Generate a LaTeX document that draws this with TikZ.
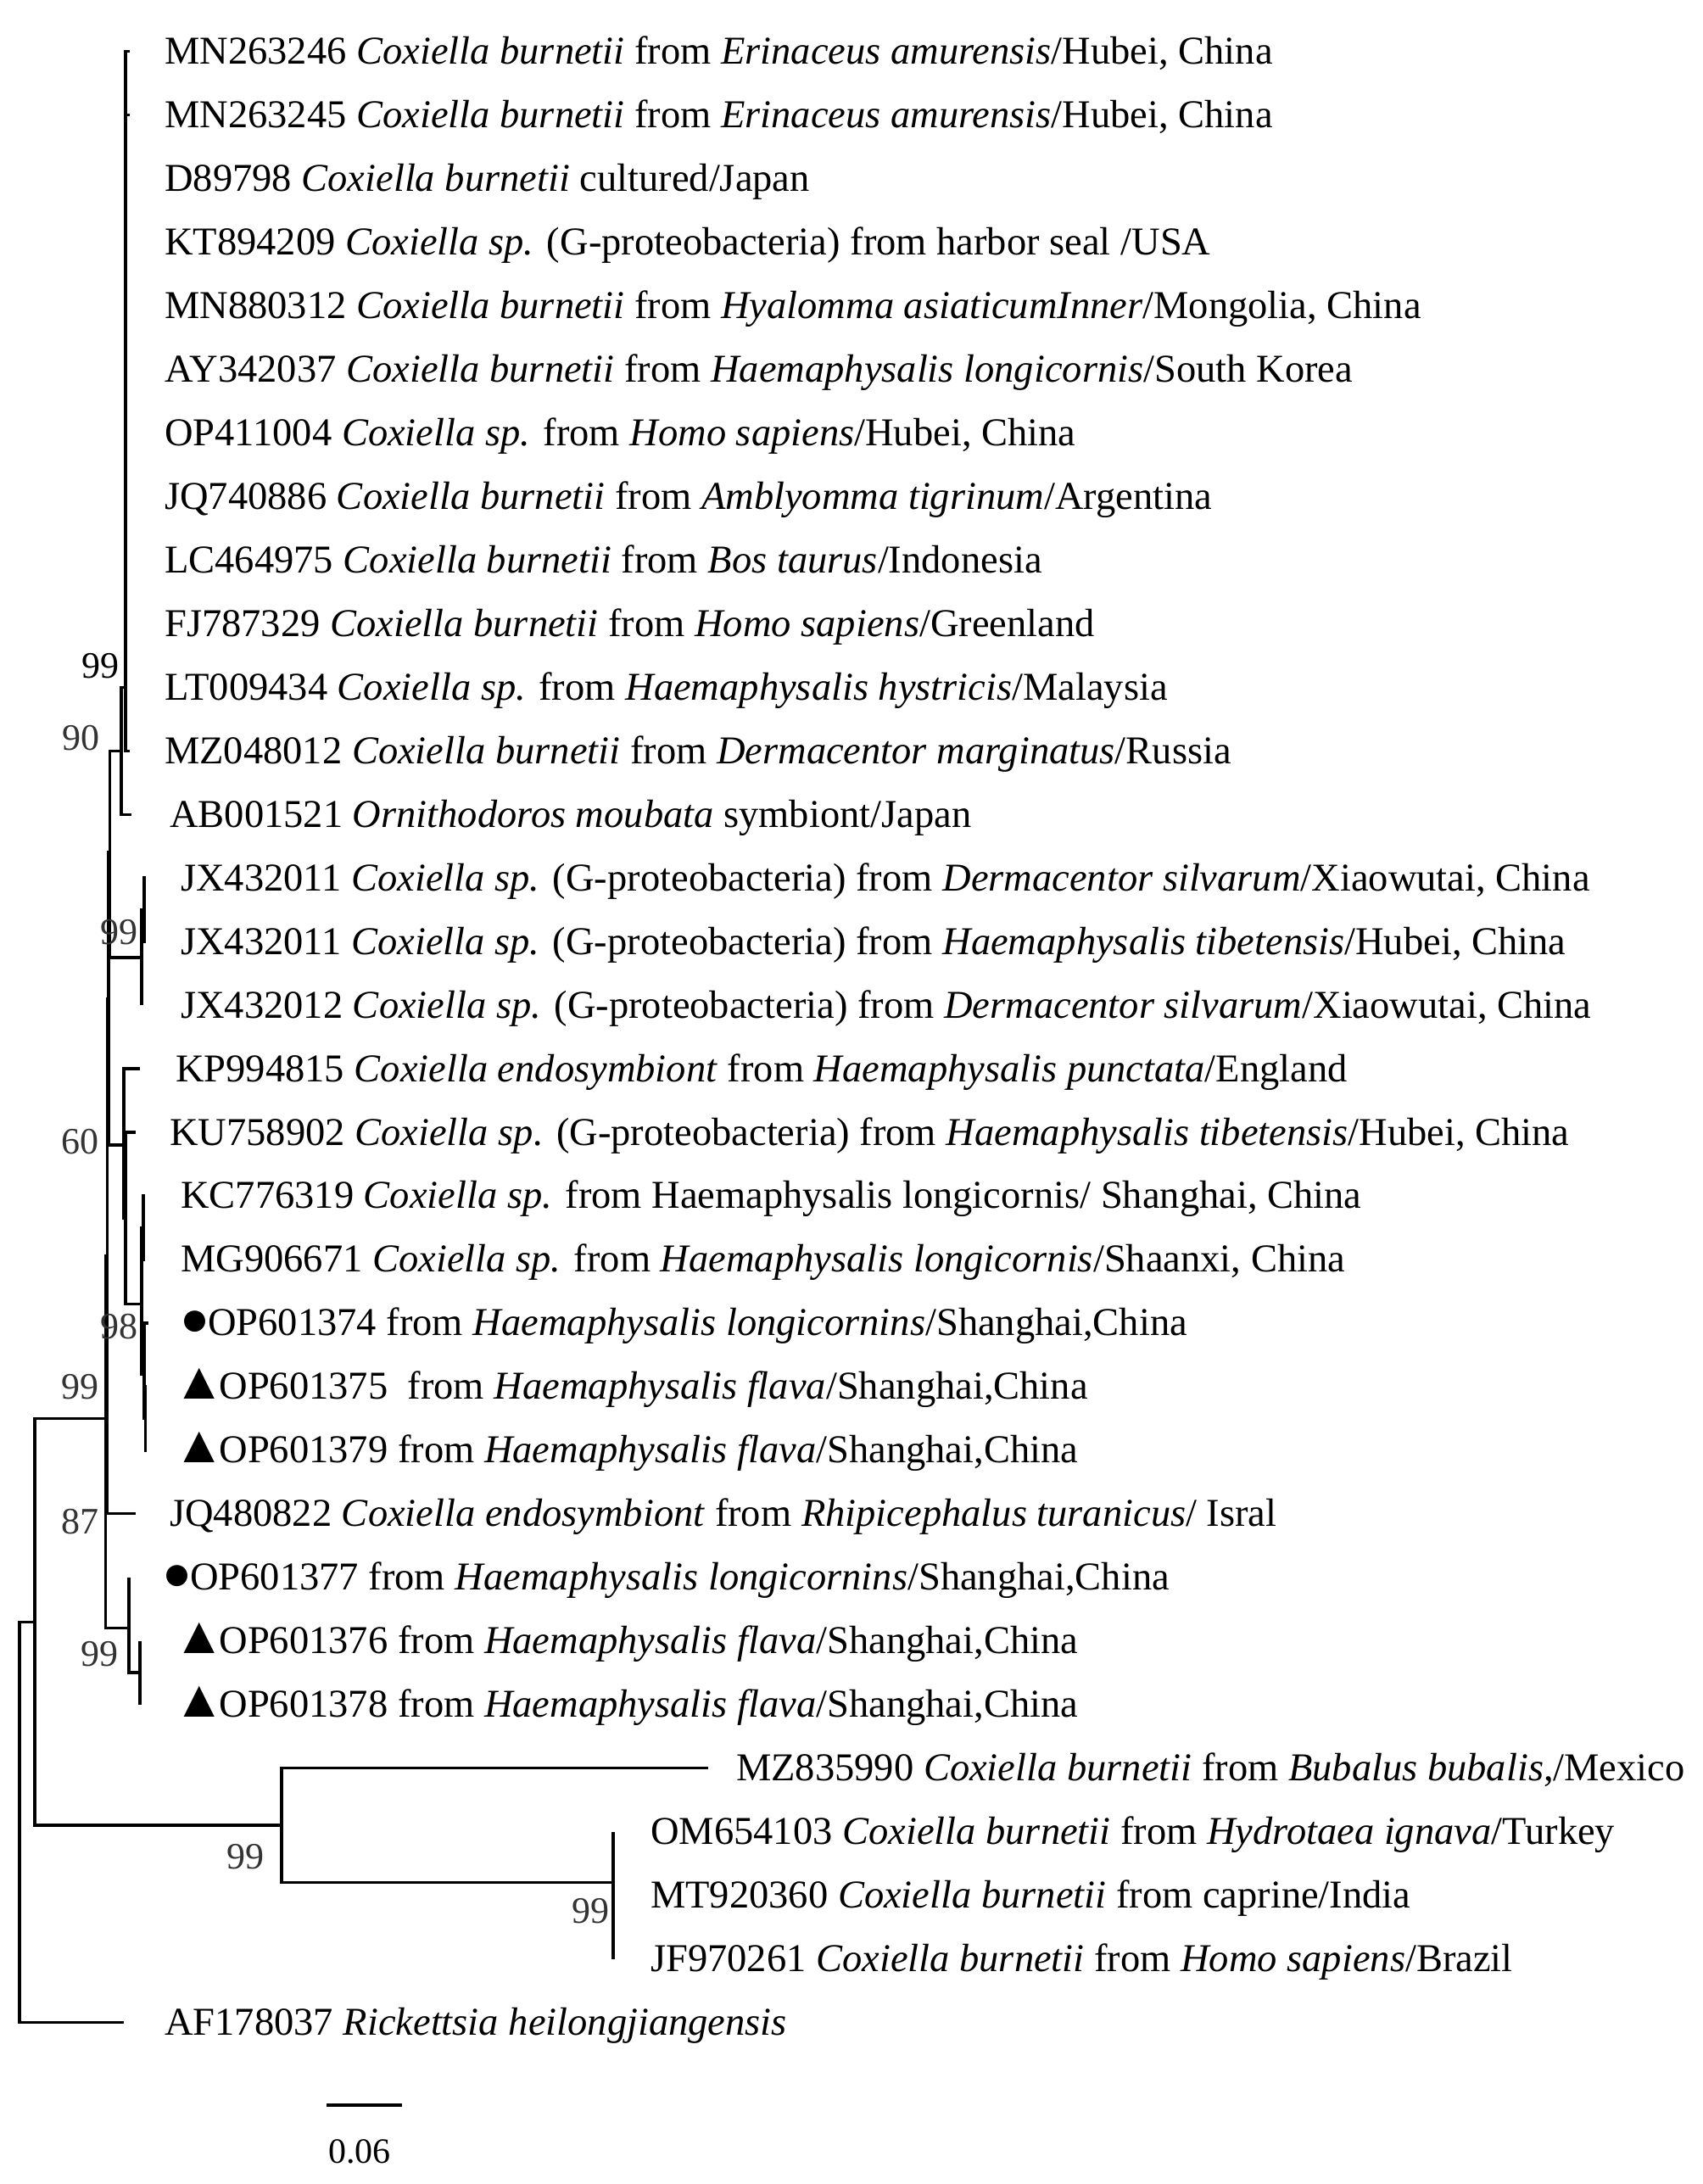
\documentclass[tikz,border=0pt]{standalone}
\usepackage{fontspec}
\setmainfont{Liberation Serif}
\newcommand{\dotm}{{\fontsize{58}{60}\selectfont ●}\kern-2pt}
\newcommand{\trim}{{\fontsize{62}{64}\selectfont ▲}\kern-7pt}
\begin{document}
\begin{tikzpicture}[x=1pt,y=-74.96pt,
  br/.style={line width=3.4pt},
  tip/.style={anchor=base west, inner sep=0pt, font=\fontsize{46.5}{56}\selectfont},
  bs/.style={anchor=east, inner sep=0pt, font=\fontsize{44}{52}\selectfont, text=black!80},
  bsk/.style={bs, text=black}]
\useasboundingbox (0,0.1903) rectangle (2008,34.5423);
% ---------- internal nodes ----------
\coordinate (root) at (23,28.85);
\coordinate (nA)   at (41,25.7);
\coordinate (nMZ)  at (332,28.9);
\coordinate (nT)   at (723,29.8);
\coordinate (N4)   at (124.5,22.5);
\coordinate (N3)   at (126.5,19.95);
\coordinate (N2)   at (128,15.9);
\coordinate (N1)   at (129.5,13.6);
\coordinate (nB)   at (143,12.0);
\coordinate (nL)   at (148,11.0);
\coordinate (nJX)  at (167,15.25);
\coordinate (nJX1) at (170,14.5);
\coordinate (nF)   at (146,18.2);
\coordinate (nF2)  at (148,19.35);
\coordinate (nG)   at (167,20.7);
\coordinate (nKM)  at (169,19.5);
\coordinate (nH)   at (170,21.8);
\coordinate (nH2)  at (171.5,22.5);
\coordinate (nI)   at (152,25.8);
\coordinate (nJ)   at (165,26.5);
% ---------- tip ends ----------
\coordinate (t1) at (153,1);
\coordinate (t2) at (153,2);
\foreach \i in {3,...,11}{\coordinate (t\i) at (148,\i);}
\coordinate (t12) at (153,12);
\coordinate (t13) at (155,13);
\coordinate (t14) at (172,14);
\coordinate (t15) at (172,15);
\coordinate (t16) at (167,16);
\coordinate (t17) at (165,17);
\coordinate (t18) at (160,18);
\coordinate (t19) at (171,19);
\coordinate (t20) at (171,20);
\coordinate (t21) at (175,21);
\coordinate (t22) at (173,22);
\coordinate (t23) at (173,23);
\coordinate (t24) at (160,24);
\coordinate (t25) at (152,25);
\coordinate (t26) at (165,26);
\coordinate (t27) at (165,27);
\coordinate (t28) at (835,28);
\coordinate (t29) at (723,29);
\coordinate (t30) at (723,30);
\coordinate (t31) at (723,31);
\coordinate (t32) at (146,32);
% ---------- branches ----------
\draw[br] (root) |- (nA);
\draw[br] (root) |- (t32);
\draw[br] (nA) |- (N4);
\draw[br] (nA) |- (nMZ);
\draw[br] (nMZ) |- (t28);
\draw[br] (nMZ) |- (nT);
\foreach \c in {t29,t30,t31}{\draw[br] (nT) |- (\c);}
\draw[br] (N4) |- (N3);
\draw[br] (N4) |- (nI);
\draw[br] (N3) |- (N2);
\draw[br] (N3) |- (t24);
\draw[br] (N2) |- (N1);
\draw[br] (N2) |- (nF);
\draw[br] (N1) |- (nB);
\draw[br] (N1) |- (nJX);
\draw[br] (nB) |- (nL);
\draw[br] (nB) |- (t13);
\foreach \i in {1,...,12}{\draw[br] (nL) |- (t\i);}
\draw[br] (nJX) |- (nJX1);
\draw[br] (nJX) |- (t16);
\draw[br] (nJX1) |- (t14);
\draw[br] (nJX1) |- (t15);
\draw[br] (nF) |- (t17);
\draw[br] (nF) |- (nF2);
\draw[br] (nF2) |- (t18);
\draw[br] (nF2) |- (nG);
\draw[br] (nG) |- (nKM);
\draw[br] (nG) |- (nH);
\draw[br] (nKM) |- (t19);
\draw[br] (nKM) |- (t20);
\draw[br] (nH) |- (t21);
\draw[br] (nH) |- (nH2);
\draw[br] (nH2) |- (t22);
\draw[br] (nH2) |- (t23);
\draw[br] (nI) |- (t25);
\draw[br] (nI) |- (nJ);
\draw[br] (nJ) |- (t26);
\draw[br] (nJ) |- (t27);
% ---------- tip labels ----------
\node[tip] (l1)  at (194,1.2)  {MN263246 \textit{Coxiella burnetii} from \textit{Erinaceus amurensis}/Hubei, China};
\node[tip] (l2)  at (194,2.2)  {MN263245 \textit{Coxiella burnetii} from \textit{Erinaceus amurensis}/Hubei, China};
\node[tip] (l3)  at (194,3.2)  {D89798 \textit{Coxiella burnetii} cultured/Japan};
\node[tip] (l4)  at (194,4.2)  {KT894209 \textit{Coxiella sp.} (G-proteobacteria) from harbor seal /USA};
\node[tip] (l5)  at (194,5.2)  {MN880312 \textit{Coxiella burnetii} from \textit{Hyalomma asiaticumInner}/Mongolia, China};
\node[tip] (l6)  at (194,6.2)  {AY342037 \textit{Coxiella burnetii} from \textit{Haemaphysalis longicornis}/South Korea};
\node[tip] (l7)  at (194,7.2)  {OP411004 \textit{Coxiella sp.} from \textit{Homo sapiens}/Hubei, China};
\node[tip] (l8)  at (194,8.2)  {JQ740886 \textit{Coxiella burnetii} from \textit{Amblyomma tigrinum}/Argentina};
\node[tip] (l9)  at (194,9.2)  {LC464975 \textit{Coxiella burnetii} from \textit{Bos taurus}/Indonesia};
\node[tip] (l10) at (194,10.2) {FJ787329 \textit{Coxiella burnetii} from \textit{Homo sapiens}/Greenland};
\node[tip] (l11) at (194,11.2) {LT009434 \textit{Coxiella sp.} from \textit{Haemaphysalis hystricis}/Malaysia};
\node[tip] (l12) at (194,12.2) {MZ048012 \textit{Coxiella burnetii} from \textit{Dermacentor marginatus}/Russia};
\node[tip] (l13) at (200,13.2) {AB001521 \textit{Ornithodoros moubata} symbiont/Japan};
\node[tip] (l14) at (213,14.2) {JX432011 \textit{Coxiella sp.} (G-proteobacteria) from \textit{Dermacentor silvarum}/Xiaowutai, China};
\node[tip] (l15) at (213,15.2) {JX432011 \textit{Coxiella sp.} (G-proteobacteria) from \textit{Haemaphysalis tibetensis}/Hubei, China};
\node[tip] (l16) at (213,16.2) {JX432012 \textit{Coxiella sp.} (G-proteobacteria) from \textit{Dermacentor silvarum}/Xiaowutai, China};
\node[tip] (l17) at (207,17.2) {KP994815 \textit{Coxiella endosymbiont} from \textit{Haemaphysalis punctata}/England};
\node[tip] (l18) at (200,18.2) {KU758902 \textit{Coxiella sp.} (G-proteobacteria) from \textit{Haemaphysalis tibetensis}/Hubei, China};
\node[tip] (l19) at (213,19.2) {KC776319 \textit{Coxiella sp.} from Haemaphysalis longicornis/ Shanghai, China};
\node[tip] (l20) at (213,20.2) {MG906671 \textit{Coxiella sp.} from \textit{Haemaphysalis longicornis}/Shaanxi, China};
\node[tip] (l21) at (212,21.2) {\dotm OP601374 from \textit{Haemaphysalis longicornins}/Shanghai,China};
\node[tip] (l22) at (204,22.2) {\trim OP601375\ \ from \textit{Haemaphysalis flava}/Shanghai,China};
\node[tip] (l23) at (204,23.2) {\trim OP601379 from \textit{Haemaphysalis flava}/Shanghai,China};
\node[tip] (l24) at (200,24.2) {JQ480822 \textit{Coxiella endosymbiont} from \textit{Rhipicephalus turanicus}/ Isral};
\node[tip] (l25) at (191,25.2) {\dotm OP601377 from \textit{Haemaphysalis longicornins}/Shanghai,China};
\node[tip] (l26) at (204,26.2) {\trim OP601376 from \textit{Haemaphysalis flava}/Shanghai,China};
\node[tip] (l27) at (204,27.2) {\trim OP601378 from \textit{Haemaphysalis flava}/Shanghai,China};
\node[tip] (l28) at (868,28.2) {MZ835990 \textit{Coxiella burnetii} from \textit{Bubalus bubalis},/Mexico};
\node[tip] (l29) at (767,29.2) {OM654103 \textit{Coxiella burnetii} from \textit{Hydrotaea ignava}/Turkey};
\node[tip] (l30) at (767,30.2) {MT920360 \textit{Coxiella burnetii} from caprine/India};
\node[tip] (l31) at (767,31.2) {JF970261 \textit{Coxiella burnetii} from \textit{Homo sapiens}/Brazil};
\node[tip] (l32) at (194,32.2) {AF178037 \textit{Rickettsia heilongjiangensis}};
% ---------- bootstrap values ----------
\node[bsk] (b1) at (141,10.66) {99};
\node[bs] (b2) at (118,11.8) {90};
\node[bs] (b3) at (163,14.85) {99};
\node[bs] (b4) at (117,18.15) {60};
\node[bs] (b5) at (163,21.05) {98};
\node[bs] (b6) at (117,22.0) {99};
\node[bs] (b7) at (117,24.13) {87};
\node[bs] (b8) at (140,26.2) {99};
\node[bs] (b9) at (312,29.4) {99};
\node[bs] (b10) at (719,30.25) {99};
% ---------- scale bar ----------
\coordinate (sb1) at (385,33.30);
\coordinate (sb2) at (474,33.30);
\draw[br] (sb1) -- (sb2);
\node[inner sep=0pt, font=\fontsize{42}{50}\selectfont] (sbl) at (424,34.03) {0.06};
\end{tikzpicture}
\end{document}
